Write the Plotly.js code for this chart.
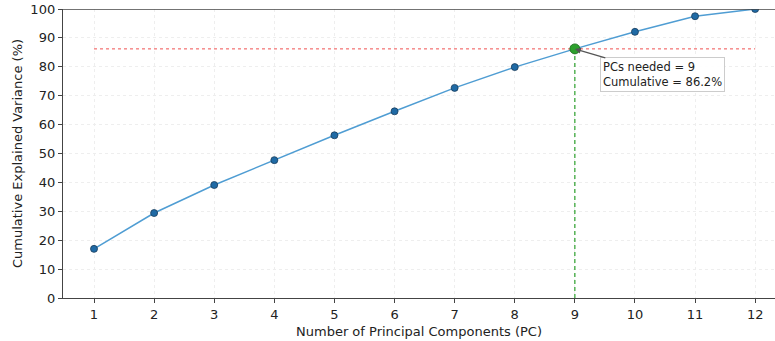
<!DOCTYPE html>
<html><head><meta charset="utf-8">
<script src="https://cdn.plot.ly/plotly-3.0.1.min.js"></script>
<style>html,body{margin:0;padding:0;background:#fff}#c{width:775px;height:341px}</style>
</head><body><div id="c"></div>
<script>
var pcs = [1,2,3,4,5,6,7,8,9,10,11,12];
var cumulative = [17.0,29.4,39.1,47.7,56.3,64.6,72.7,79.9,86.2,92.1,97.5,100.0];
var thresholdPC = 9;
var thresholdValue = 86.2;
var xTicks = [1,2,3,4,5,6,7,8,9,10,11,12];
var yTicks = [0,10,20,30,40,50,60,70,80,90,100];

var font = {family:'DejaVu Sans, sans-serif', size:13, color:'#222'};
var traces = [
  {x:pcs, y:cumulative, type:'scatter', mode:'lines+markers',
   line:{color:'#4f9dd3', width:1.5},
   marker:{color:'#1f6aa5', size:7, line:{color:'#1a3c5a', width:0.8}},
   hoverinfo:'skip'},
  {x:[pcs[0], pcs[pcs.length-1]], y:[thresholdValue, thresholdValue], type:'scatter', mode:'lines',
   line:{color:'#f05050', width:1, dash:'dot'}, hoverinfo:'skip'},
  {x:[thresholdPC, thresholdPC], y:[0, thresholdValue], type:'scatter', mode:'lines',
   line:{color:'#2ca02c', width:1.2, dash:'4px,3px'}, hoverinfo:'skip'},
  {x:[thresholdPC], y:[thresholdValue], type:'scatter', mode:'markers',
   marker:{color:'#2ca02c', size:10, line:{color:'#1d6b1d', width:0.8}}, hoverinfo:'skip'}
];
var layout = {
  width:775, height:341, showlegend:false,
  margin:{l:63, r:0, t:9, b:43},
  paper_bgcolor:'#fff', plot_bgcolor:'#fff', font:font,
  xaxis:{range:[0.484, 12.33], tickvals:xTicks, ticks:'outside', ticklen:4, tickcolor:'#444',
    showline:true, linecolor:'#444', linewidth:1.2, zeroline:false,
    showgrid:true, gridcolor:'#eeeeee', griddash:'dot', gridwidth:1,
    tickfont:font, title:{text:'Number of Principal Components (PC)', font:font, standoff:6}},
  yaxis:{range:[0,100], tickvals:yTicks, ticks:'outside', ticklen:4, tickcolor:'#444',
    showline:true, linecolor:'#444', linewidth:1.2, zeroline:false,
    showgrid:true, gridcolor:'#eeeeee', griddash:'dot', gridwidth:1,
    tickfont:font, title:{text:'Cumulative Explained Variance (%)', font:font, standoff:4}},
  shapes:[{type:'line', xref:'paper', yref:'y', x0:0, x1:1, y0:100, y1:100, line:{color:'#444', width:1.5}}],
  annotations:[{x:thresholdPC, y:thresholdValue, xref:'x', yref:'y',
    text:'PCs needed = ' + thresholdPC + '<br>Cumulative = ' + thresholdValue.toFixed(1) + '%',
    align:'left', showarrow:true, arrowhead:2, arrowsize:1, arrowwidth:1.2, arrowcolor:'#555',
    ax:88, ay:26, bgcolor:'rgba(255,255,255,0.9)', bordercolor:'#cccccc', borderwidth:1, borderpad:2,
    font:{family:'DejaVu Sans, sans-serif', size:11.5, color:'#222'}}]
};
Plotly.newPlot('c', traces, layout, {displayModeBar:false, staticPlot:true});
</script></body></html>
